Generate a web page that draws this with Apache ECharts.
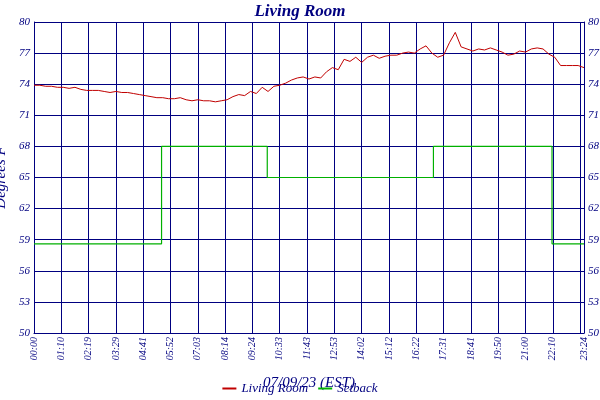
<!DOCTYPE html>
<html><head><meta charset="utf-8">
<script src="https://cdn.jsdelivr.net/npm/echarts@6/dist/echarts.min.js"></script>
<style>html,body{margin:0;background:#fff}#c{width:600px;height:400px}</style>
</head><body><div id="c"></div>
<script>
const xTickLabels=['00:00','01:10','02:19','03:29','04:41','05:52','07:03','08:14','09:24','10:33','11:43','12:53','14:02','15:12','16:22','17:31','18:41','19:50','21:00','22:10','23:19','23:24'];
const roomMinutes=[0,15,30,45,60,75,90,105,120,135,150,165,180,195,210,225,240,255,270,285,300,315,330,345,360,375,390,405,420,435,450,465,480,495,510,525,540,555,570,585,600,615,630,645,660,675,690,705,720,735,750,765,780,795,810,825,840,855,870,885,900,915,930,945,960,975,990,1005,1020,1035,1050,1065,1080,1095,1110,1125,1140,1155,1170,1185,1200,1215,1230,1245,1260,1275,1290,1305,1320,1335,1350,1365,1380,1395,1410];
const roomTemps=[73.9,73.9,73.8,73.8,73.7,73.7,73.6,73.7,73.5,73.4,73.4,73.4,73.3,73.2,73.3,73.2,73.2,73.1,73.0,72.9,72.8,72.7,72.7,72.6,72.6,72.7,72.5,72.4,72.5,72.4,72.4,72.3,72.4,72.5,72.8,73.0,72.9,73.3,73.1,73.7,73.3,73.8,73.9,74.1,74.4,74.6,74.7,74.5,74.7,74.6,75.2,75.6,75.4,76.4,76.2,76.6,76.1,76.6,76.8,76.5,76.7,76.8,76.8,77.0,77.1,77.0,77.4,77.7,77.0,76.6,76.8,78.0,79.0,77.6,77.4,77.2,77.4,77.3,77.5,77.3,77.1,76.8,76.9,77.2,77.1,77.4,77.5,77.4,76.9,76.6,75.8,75.8,75.8,75.8,75.6];
const setbackMinutes=[0,327,327,598,598,1024,1024,1328,1328,1410];
const setbackTemps=[58.6,58.6,68,68,65,65,68,68,58.6,58.6];
const navy='#000080', font='Liberation Serif';
const yAx=(pos)=>({type:'value',position:pos,min:50,max:80,interval:3,
  axisLine:{show:true,lineStyle:{color:navy}},axisTick:{show:false},
  splitLine:{show:pos==='left',lineStyle:{color:navy,width:1}},
  axisLabel:{color:navy,fontFamily:font,fontStyle:'italic',fontSize:11,margin:4}});
const chart=echarts.init(document.getElementById('c'));
chart.setOption({
  backgroundColor:'#fff',animation:false,
  title:{text:'Living Room',left:'center',top:-2,textStyle:{color:navy,fontFamily:font,fontStyle:'italic',fontWeight:'bold',fontSize:17}},
  grid:{left:34,right:16,top:22,bottom:67,containLabel:false,outerBoundsMode:'none'},
  legend:{bottom:0,left:'center',itemWidth:14,itemHeight:2,icon:'rect',itemGap:10,
    textStyle:{color:navy,fontFamily:font,fontStyle:'italic',fontSize:13},data:['Living Room','Setback']},
  xAxis:{type:'value',min:0,max:1410,interval:70,name:'07/09/23 (EST)',nameLocation:'middle',nameGap:43,
    nameTextStyle:{color:navy,fontFamily:font,fontStyle:'italic',fontSize:15},
    axisLine:{show:true,lineStyle:{color:navy}},axisTick:{show:false},
    splitLine:{show:true,lineStyle:{color:navy,width:1}},
    axisLabel:{color:navy,fontFamily:font,fontStyle:'italic',fontSize:10,rotate:90,margin:4,showMaxLabel:true,
      formatter:(v)=>{const i=Math.round(v/70);return v===1410?xTickLabels[21]:(xTickLabels[i]||'');}}},
  yAxis:[Object.assign(yAx('left'),{name:'Degrees F',nameLocation:'middle',nameGap:22,
    nameTextStyle:{color:navy,fontFamily:font,fontStyle:'italic',fontSize:15}}),yAx('right')],
  series:[
    {name:'Living Room',type:'line',showSymbol:false,color:'#c00000',lineStyle:{width:1},
      data:roomMinutes.map((m,i)=>[m,roomTemps[i]])},
    {name:'Setback',type:'line',showSymbol:false,color:'#00b000',lineStyle:{width:1.2},
      data:setbackMinutes.map((m,i)=>[m,setbackTemps[i]])}
  ]
});
</script></body></html>
